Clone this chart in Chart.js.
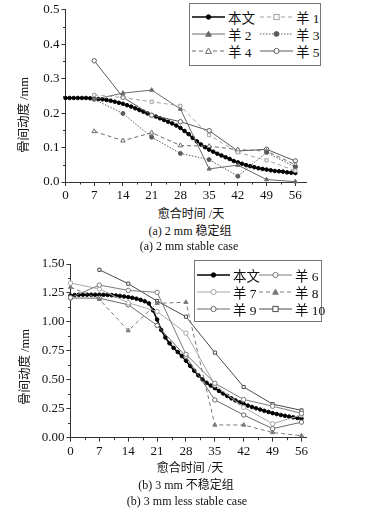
<!DOCTYPE html>
<html><head><meta charset="utf-8">
<script src="https://cdn.jsdelivr.net/npm/chart.js@4.4.0/dist/chart.umd.min.js"></script>
<style>
body{margin:0;background:#fff;width:383px;height:516px;position:relative;overflow:hidden;font-family:"Liberation Serif","Noto Sans CJK SC",serif;color:#111}
canvas{position:absolute;left:0}
.t{position:absolute;white-space:nowrap;font-size:12px;transform:translate(-50%,-50%)}
.yt{position:absolute;white-space:nowrap;font-size:12.5px;transform:translate(-50%,-50%) rotate(-90deg)}
.lg{position:absolute;border:1px solid #777;background:#fff;box-sizing:border-box}
.li{position:absolute;display:flex;align-items:center;height:16px;font-size:13.5px;white-space:nowrap;width:max-content}
.li svg{margin-right:3px;flex-shrink:0}
</style></head>
<body>
<canvas id="ca" width="383" height="200" style="top:0;width:383px;height:200px"></canvas>
<canvas id="cb" width="383" height="210" style="top:250px;width:383px;height:210px"></canvas>
<div class="yt" style="left:22px;top:115px">骨间动度 /mm</div>
<div class="t" style="left:191px;top:213px">愈合时间 /天</div>
<div class="t" style="left:190px;top:230px">(a) 2 mm 稳定组</div>
<div class="t" style="left:189px;top:246px">(a) 2 mm stable case</div>
<div class="yt" style="left:23px;top:367px">骨间动度 /mm</div>
<div class="t" style="left:190px;top:467px">愈合时间 /天</div>
<div class="t" style="left:186px;top:484px">(b) 3 mm 不稳定组</div>
<div class="t" style="left:187px;top:501px">(b) 3 mm less stable case</div>
<div id="lga" class="lg" style="left:189px;top:3px;width:132px;height:63px"></div>
<div id="lgb" class="lg" style="left:194px;top:260px;width:128px;height:62px"></div>
<script>
// ---------- data ----------
const dailyDays = [0,1,2,3,4,5,6,7,8,9,10,11,12,13,14,15,16,17,18,19,20,21,22,23,24,25,26,27,28,29,30,31,32,33,34,35,36,37,38,39,40,41,42,43,44,45,46,47,48,49,50,51,52,53,54,55,56];
const sampleDays = [0,7,14,21,28,35,42,49,56];
const sampleDaysFrom7 = [7,14,21,28,35,42,49,56];
const xTickValues = [0,7,14,21,28,35,42,49,56];
const xTickLabels = ['0','7','14','21','28','35','42','49','56'];
const xMinorTicks = [3.5,10.5,17.5,24.5,31.5,38.5,45.5,52.5];
const yTickValuesA = [0,0.1,0.2,0.3,0.4,0.5];
const yTickLabelsA = ['0.0','0.1','0.2','0.3','0.4','0.5'];
const yMinorTicksA = [0.05,0.15,0.25,0.35,0.45];
const yTickValuesB = [0,0.25,0.5,0.75,1.0,1.25,1.5];
const yTickLabelsB = ['0.00','0.25','0.50','0.75','1.00','1.25','1.50'];
const yMinorTicksB = [0.125,0.375,0.625,0.875,1.125,1.375];

// (a) 2 mm stable case
const modelA = [0.244,0.244,0.244,0.244,0.244,0.244,0.243,0.242,0.241,0.240,0.238,0.236,0.233,0.230,0.227,0.223,0.219,0.214,0.209,0.204,0.199,0.194,0.190,0.185,0.180,0.175,0.170,0.164,0.157,0.148,0.139,0.128,0.118,0.109,0.101,0.094,0.088,0.082,0.077,0.072,0.067,0.061,0.057,0.053,0.049,0.046,0.043,0.040,0.038,0.036,0.034,0.032,0.031,0.030,0.028,0.027,0.026];
const sheep1 = [0.253,0.245,0.233,0.221,0.136,0.086,0.063,0.033];
const sheep2 = [0.240,0.258,0.267,0.212,0.038,0.049,0.007,0.001];
const sheep3 = [0.240,0.199,0.130,0.083,0.065,0.017,0.086,0.043];
const sheep4 = [0.147,0.120,0.143,0.106,0.104,0.094,0.090,0.050];
const sheep5 = [0.352,0.246,0.194,0.175,0.149,0.090,0.095,0.061];

// (b) 3 mm less stable case
const modelB = [1.228,1.232,1.234,1.235,1.235,1.235,1.235,1.235,1.234,1.233,1.231,1.228,1.224,1.219,1.214,1.208,1.200,1.190,1.178,1.160,1.100,1.020,0.930,0.865,0.815,0.775,0.740,0.705,0.665,0.620,0.578,0.538,0.503,0.474,0.450,0.428,0.404,0.382,0.360,0.340,0.322,0.305,0.290,0.277,0.265,0.254,0.243,0.232,0.222,0.212,0.204,0.196,0.189,0.182,0.176,0.170,0.165];
const sheep6 = [1.210,1.318,1.272,1.255,0.720,0.470,0.330,0.272,0.210];
const sheep7 = [1.335,1.285,1.165,1.090,0.903,0.455,0.262,0.120,0.196];
const sheep8 = [1.300,1.195,0.925,1.160,1.170,0.110,0.110,0.045,0.017];
const sheep9 = [1.206,1.205,1.148,0.970,0.700,0.326,0.196,0.078,0.134];
const sheep10 = [1.450,1.330,1.180,1.045,0.735,0.438,0.290,0.236];

const namesA = ['本文','羊 1','羊 2','羊 3','羊 4','羊 5'];
const namesB = ['本文','羊 6','羊 7','羊 8','羊 9','羊 10'];

// ---------- helpers ----------
function pts(xs, ys){ return xs.map((x,i)=>({x:x,y:ys[i]})); }
const st = {
  model:{color:'#000',dash:[],shape:'circle',fill:true,r:1.8,w:1.6},
  s1:{color:'#a0a0a0',dash:[4,3],shape:'rect',fill:false,r:2.2,w:1},
  s2:{color:'#6a6a6a',dash:[],shape:'triangle',fill:true,r:2.4,w:1},
  s3:{color:'#5a5a5a',dash:[1.5,1.5],shape:'circle',fill:true,r:2,w:1},
  s4:{color:'#6a6a6a',dash:[4,3],shape:'triangle',fill:false,r:2.6,w:1},
  s5:{color:'#5a5a5a',dash:[],shape:'circle',fill:false,r:2.2,w:1},
  s6:{color:'#7a7a7a',dash:[],shape:'circle',fill:false,r:2.2,w:1},
  s7:{color:'#a8a8a8',dash:[],shape:'circle',fill:false,r:2.2,w:1},
  s8:{color:'#7a7a7a',dash:[4,3],shape:'triangle',fill:true,r:2.4,w:1},
  s9:{color:'#686868',dash:[],shape:'circle',fill:false,r:2.2,w:1},
  s10:{color:'#4a4a4a',dash:[],shape:'rect',fill:false,r:2.2,w:1}
};
function ds(label, data, s){
  return {label:label,data:data,borderColor:s.color,borderWidth:s.w,borderDash:s.dash,
    pointStyle:s.shape,pointRadius:s.r,pointBorderWidth:1,pointBorderColor:s.color,
    pointBackgroundColor:s.fill?s.color:'#fff',tension:0,clip:false,showLine:true,fill:false};
}
const minorTicks = {
  id:'minorTicks',
  afterDraw(chart, args, o){
    const ctx=chart.ctx, xs=chart.scales.x, ys=chart.scales.y, a=chart.chartArea;
    ctx.save(); ctx.strokeStyle='#333'; ctx.lineWidth=1;
    o.x.forEach(v=>{const p=Math.round(xs.getPixelForValue(v))+0.5;ctx.beginPath();ctx.moveTo(p,a.bottom);ctx.lineTo(p,a.bottom+2.5);ctx.stroke();});
    o.y.forEach(v=>{const p=Math.round(ys.getPixelForValue(v))+0.5;ctx.beginPath();ctx.moveTo(a.left,p);ctx.lineTo(a.left-2.5,p);ctx.stroke();});
    ctx.restore();
  }
};
function makeChart(id, datasets, cfg){
  return new Chart(document.getElementById(id), {
    type:'line',
    data:{datasets:datasets},
    plugins:[minorTicks],
    options:{
      responsive:false, animation:false, devicePixelRatio:1,
      layout:{padding:cfg.pad},
      plugins:{legend:{display:false},tooltip:{enabled:false},minorTicks:{x:xMinorTicks,y:cfg.yMinor}},
      scales:{
        x:{type:'linear',min:0,max:cfg.xmax,
          afterBuildTicks:s=>{s.ticks=xTickValues.map(v=>({value:v}));},
          afterFit:s=>{s.height=cfg.xh;},
          border:{display:true,color:'#333',width:1},
          grid:{display:true,drawOnChartArea:false,drawTicks:true,tickLength:4,color:'#333'},
          ticks:{color:'#111',padding:2,maxRotation:0,autoSkip:false,font:{family:'Liberation Serif',size:13},
            callback:(v)=>xTickLabels[xTickValues.indexOf(v)]}
        },
        y:{type:'linear',min:0,max:cfg.ymax,
          afterBuildTicks:s=>{s.ticks=cfg.yVals.map(v=>({value:v}));},
          afterFit:s=>{s.width=cfg.yw;},
          border:{display:true,color:'#333',width:1},
          grid:{display:true,drawOnChartArea:false,drawTicks:true,tickLength:4,color:'#333'},
          ticks:{color:'#111',padding:2,autoSkip:false,font:{family:'Liberation Serif',size:13},
            callback:(v)=>cfg.yLabels[cfg.yVals.indexOf(v)]}
        }
      }
    }
  });
}

// ---------- chart (a) ----------
const stylesA = [st.model,st.s1,st.s2,st.s3,st.s4,st.s5];
const dsA = [
  ds(namesA[1], pts(sampleDaysFrom7, sheep1), st.s1),
  ds(namesA[2], pts(sampleDaysFrom7, sheep2), st.s2),
  ds(namesA[3], pts(sampleDaysFrom7, sheep3), st.s3),
  ds(namesA[4], pts(sampleDaysFrom7, sheep4), st.s4),
  ds(namesA[5], pts(sampleDaysFrom7, sheep5), st.s5),
  ds(namesA[0], pts(dailyDays, modelA), st.model)
];
makeChart('ca', dsA, {pad:{left:0,top:5,right:77,bottom:0},xmax:58.6,xh:18,yw:65.5,ymax:0.5,yVals:yTickValuesA,yLabels:yTickLabelsA,yMinor:yMinorTicksA});

// ---------- chart (b) ----------
const stylesB = [st.model,st.s6,st.s7,st.s8,st.s9,st.s10];
const dsB = [
  ds(namesB[1], pts(sampleDays, sheep6), st.s6),
  ds(namesB[2], pts(sampleDays, sheep7), st.s7),
  ds(namesB[3], pts(sampleDays, sheep8), st.s8),
  ds(namesB[4], pts(sampleDays, sheep9), st.s9),
  ds(namesB[5], pts(sampleDaysFrom7, sheep10), st.s10),
  ds(namesB[0], pts(dailyDays, modelB), st.model)
];
makeChart('cb', dsB, {pad:{left:0,top:14,right:77,bottom:0},xmax:57.1,xh:22.3,yw:70.5,ymax:1.5,yVals:yTickValuesB,yLabels:yTickLabelsB,yMinor:yMinorTicksB});

// ---------- legends ----------
function sample(s){
  const w=33,h=12,cx=16.5,cy=6,r=s.r+0.4;
  const dash=s.dash.length?` stroke-dasharray="${s.dash.join(',')}"`:'';
  let m='';
  const f=s.fill?s.color:'#fff';
  if(s.shape==='circle') m=`<circle cx="${cx}" cy="${cy}" r="${r}" fill="${f}" stroke="${s.color}" stroke-width="1"/>`;
  else if(s.shape==='rect') m=`<rect x="${cx-r}" y="${cy-r}" width="${2*r}" height="${2*r}" fill="${f}" stroke="${s.color}" stroke-width="1"/>`;
  else m=`<polygon points="${cx},${cy-r} ${cx+r},${cy+r*0.8} ${cx-r},${cy+r*0.8}" fill="${f}" stroke="${s.color}" stroke-width="1"/>`;
  return `<svg width="${w}" height="${h}"><line x1="0" y1="${cy}" x2="${w}" y2="${cy}" stroke="${s.color}" stroke-width="${s.w}"${dash}/>${m}</svg>`;
}
function legend(id, names, styles, cols, rows){
  const el=document.getElementById(id);
  names.forEach((n,i)=>{
    const d=document.createElement('div');
    d.className='li';
    d.style.left=cols[i%2]+'px';
    d.style.top=rows[Math.floor(i/2)]+'px';
    d.innerHTML=sample(styles[i])+'<span>'+n+'</span>';
    el.appendChild(d);
  });
}
legend('lga', namesA, stylesA, [2,70], [5,22,39]);
legend('lgb', namesB, stylesB, [2,64], [6,23,40]);
</script>
</body></html>
